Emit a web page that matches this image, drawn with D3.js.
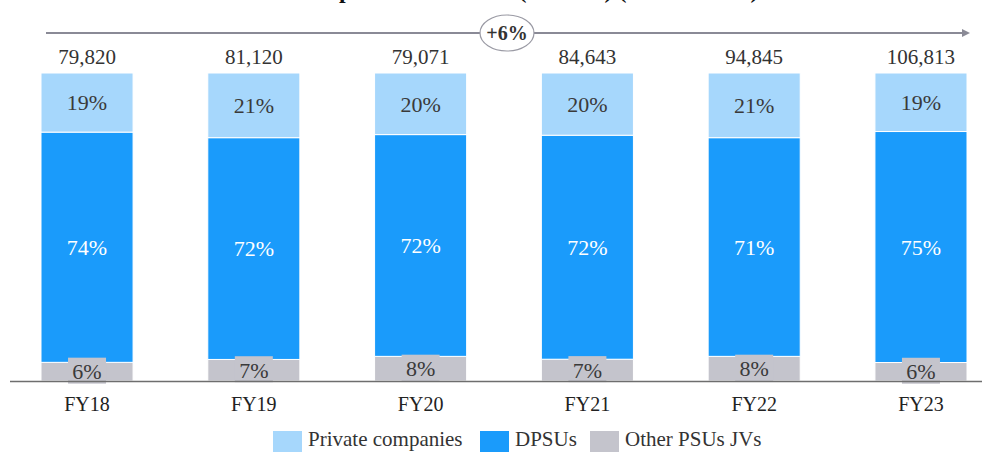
<!DOCTYPE html>
<html><head><meta charset="utf-8">
<script src="https://cdn.jsdelivr.net/npm/d3@7"></script>
<style>body{margin:0;background:#fff}svg{display:block}</style>
</head><body>
<svg id="c" width="991" height="452"></svg>
<script>
const categories = ["FY18","FY19","FY20","FY21","FY22","FY23"];
const totals = ["79,820","81,120","79,071","84,643","94,845","106,813"];
const privateShare = [19,21,20,20,21,19];
const dpsuShare = [74,72,72,72,71,75];
const otherShare = [6,7,8,7,8,6];
const seriesNames = ["Private companies","DPSUs","Other PSUs JVs"];
const cagrLabel = "+6%";
const titleText = "Defence production value (INR Cr) (FY18–FY23)";

const colors = {"Other PSUs JVs":"#c4c4cc","DPSUs":"#1a9bfb","Private companies":"#a6d7fc"};
const font = "'Liberation Serif','Times New Roman',serif";
const svg = d3.select("#c");

const x = d3.scaleBand().domain(categories).range([41,967]).paddingInner(0.448).paddingOuter(0);
const y = d3.scaleLinear().domain([0,1]).range([381,73]);

// title (mostly cut off at top, as in the reference)
svg.append("text").attr("x",505).attr("y",-2).attr("text-anchor","middle")
  .attr("font-family",font).attr("font-size",24).attr("font-weight","bold").attr("fill","#111")
  .text(titleText);

const rows = categories.map((c,i)=>{
  const vals = {"Other PSUs JVs":otherShare[i],"DPSUs":dpsuShare[i],"Private companies":privateShare[i]};
  const sum = otherShare[i]+dpsuShare[i]+privateShare[i];
  let acc = 0;
  const segs = ["Other PSUs JVs","DPSUs","Private companies"].map(k=>{
    const s = {key:k, v:vals[k], y0:acc/sum, y1:(acc+vals[k])/sum};
    acc += vals[k]; return s;
  });
  return {cat:c, total:totals[i], segs};
});

const g = svg.append("g");
rows.forEach(r=>{
  const bx = x(r.cat), bw = x.bandwidth(), cx = bx+bw/2;
  r.segs.forEach(s=>{
    g.append("rect").attr("x",bx).attr("width",bw)
      .attr("y",y(s.y1)).attr("height",y(s.y0)-y(s.y1))
      .attr("fill",colors[s.key]).attr("stroke","#fff").attr("stroke-width",1);
  });
  r.segs.forEach(s=>{
    const cy = (y(s.y0)+y(s.y1))/2;
    if(s.key==="Other PSUs JVs"){
      g.append("rect").attr("x",cx-19).attr("y",cy-14).attr("width",38).attr("height",26)
        .attr("fill",colors[s.key]);
    }
    g.append("text").attr("x",cx).attr("y",cy).attr("dy","0.35em").attr("text-anchor","middle")
      .attr("font-family",font).attr("font-size",22)
      .attr("fill", s.key==="DPSUs" ? "#ffffff" : "#3a3a3a")
      .text(s.v+"%");
  });
  g.append("text").attr("x",cx).attr("y",57).attr("dy","0.35em").attr("text-anchor","middle")
    .attr("font-family",font).attr("font-size",21).attr("fill","#333").text(r.total);
});

svg.append("line").attr("x1",10).attr("x2",982).attr("y1",381.5).attr("y2",381.5)
  .attr("stroke","#6e6e6e").attr("stroke-width",1.5);

const xAxis = d3.axisBottom(x).tickSize(0).tickPadding(16);
const ax = svg.append("g").attr("transform","translate(0,381)").call(xAxis);
ax.select(".domain").remove();
ax.selectAll("text").attr("font-family",font).attr("font-size",20).attr("fill","#222");

const ay = 33;
svg.append("defs").append("marker").attr("id","ah").attr("viewBox","0 0 10 10")
  .attr("refX",5).attr("refY",5).attr("markerWidth",4).attr("markerHeight",4).attr("orient","auto")
  .append("path").attr("d","M0,0L10,5L0,10z").attr("fill","#8a8a96");
svg.append("line").attr("x1",46).attr("x2",966).attr("y1",ay).attr("y2",ay)
  .attr("stroke","#8a8a96").attr("stroke-width",2).attr("marker-end","url(#ah)");
svg.append("ellipse").attr("cx",507).attr("cy",ay).attr("rx",27).attr("ry",18)
  .attr("fill","#fff").attr("stroke","#9a9aa4").attr("stroke-width",1.2);
svg.append("text").attr("x",507).attr("y",ay).attr("dy","0.35em").attr("text-anchor","middle")
  .attr("font-family",font).attr("font-size",20).attr("font-weight","bold").attr("fill","#333").text(cagrLabel);

const legX = [273,480,590];
seriesNames.forEach((n,i)=>{
  svg.append("rect").attr("x",legX[i]).attr("y",431).attr("width",29).attr("height",21).attr("fill",colors[n]);
  svg.append("text").attr("x",legX[i]+35).attr("y",439).attr("dy","0.35em")
    .attr("font-family",font).attr("font-size",21).attr("fill","#333").text(n);
});
</script>
</body></html>
